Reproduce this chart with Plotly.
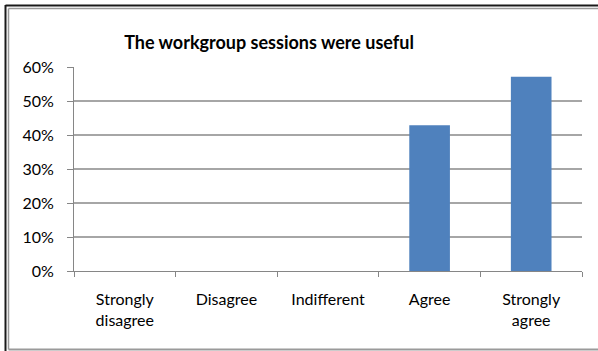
import plotly.graph_objects as go

# Survey responses: share of participants per answer
categories = ["Strongly<br>disagree", "Disagree", "Indifferent", "Agree", "Strongly<br>agree"]
shares = [0.0, 0.0, 0.0, 0.429, 0.571]
y_ticks = [0, 0.1, 0.2, 0.3, 0.4, 0.5, 0.6]
y_tick_text = ["0%", "10%", "20%", "30%", "40%", "50%", "60%"]

W, H = 598, 351
L, R, T, B = 74, 16, 67, 80
pw, ph = W - L - R, H - T - B


def px(x):
    return (x - L) / pw


def py(y):
    return (H - B - y) / ph


fig = go.Figure(
    go.Bar(
        x=categories,
        y=shares,
        marker=dict(color="#4F81BD", line=dict(width=0)),
        width=0.4,
    )
)

font_family = "Lato, 'Open Sans', sans-serif"

fig.update_layout(
    width=W,
    height=H,
    margin=dict(l=L, r=R, t=T, b=B),
    paper_bgcolor="white",
    plot_bgcolor="white",
    showlegend=False,
    font=dict(family=font_family, size=16, color="#000000"),
    title=dict(
        text="<b>The workgroup sessions were useful</b>",
        x=269 / W,
        xanchor="center",
        y=1 - 43 / H,
        yanchor="middle",
        font=dict(size=18, family=font_family, color="#000000"),
    ),
    bargap=0.6,
)

fig.update_xaxes(
    showline=True,
    linecolor="#868686",
    linewidth=1,
    ticks="outside",
    tickson="boundaries",
    ticklen=5,
    tickcolor="#868686",
    showgrid=False,
    ticklabelstandoff=14,
    tickfont=dict(size=16),
)

fig.update_yaxes(
    range=[0, 0.6],
    tickvals=y_ticks,
    ticktext=y_tick_text,
    showline=True,
    linecolor="#868686",
    linewidth=1,
    ticks="outside",
    ticklen=6,
    tickcolor="#868686",
    showgrid=True,
    gridcolor="#A6A6A6",
    gridwidth=1.5,
    zeroline=False,
    ticklabelstandoff=10,
    tickfont=dict(size=16),
)

# Frame around the chart: dark outer rule and lighter inner rule
shapes = [
    dict(type="line", xref="paper", yref="paper", x0=px(5.5), x1=px(W), y0=py(5.5), y1=py(5.5),
         line=dict(color="#1a1a1a", width=2)),
    dict(type="line", xref="paper", yref="paper", x0=px(5.5), x1=px(5.5), y0=py(5), y1=py(H),
         line=dict(color="#1a1a1a", width=2)),
    dict(type="line", xref="paper", yref="paper", x0=px(8.5), x1=px(W), y0=py(8.5), y1=py(8.5),
         line=dict(color="#9a9a9a", width=1.5)),
    dict(type="line", xref="paper", yref="paper", x0=px(8.5), x1=px(8.5), y0=py(8.5), y1=py(349.5),
         line=dict(color="#9a9a9a", width=1.5)),
    dict(type="line", xref="paper", yref="paper", x0=px(8.5), x1=px(W), y0=py(349.5), y1=py(349.5),
         line=dict(color="#9a9a9a", width=2)),
]
fig.update_layout(shapes=shapes)

fig.write_html("out.html")
